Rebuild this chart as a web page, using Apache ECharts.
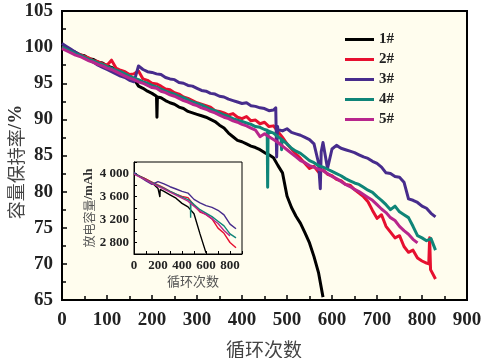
<!DOCTYPE html>
<html><head><meta charset="utf-8">
<script src="https://cdn.jsdelivr.net/npm/echarts@6/dist/echarts.min.js"></script>
<style>html,body{margin:0;padding:0;background:#fff}#c{width:490px;height:358px}</style>
</head><body><div id="c"></div>
<script>
// ---------- data ----------
const seriesNames = ['1#','2#','3#','4#','5#'];
const cycles = [0,10,20,30,40,50,60,70,80,90,100,110,120,130,140,150,160,170,180,190,200,210,220,230,240,250,260,270,280,290,300,310,320,330,340,350,360,370,380,390,400,410,420,430,440,450,460,470,480,490,500,510,520,530,540,550,560,570,580,590,600,610,620,630,640,650,660,670,680,690,700,710,720,730,740,750,760,770,780,790,800,810,820,830];
const ret1 = [100.1,99.8,99.5,99.3,98.9,98.8,98.4,98.3,97.9,97.8,
97.4,97.2,96.9,96.7,96.4,96.0,95.6,94.6,94.3,93.9,
93.6,93.2,93.0,92.6,92.3,92.1,91.7,91.5,91.1,90.9,
90.7,90.5,90.3,90.0,89.7,89.2,88.8,88.1,87.6,87.1,
86.9,86.6,86.3,86.1,85.8,85.4,85.1,84.7,83.6,82.6,
79.4,77.8,76.6,75.6,74.3,72.9,71.0,68.8,65.4];
const ret2 = [100.0,99.8,99.4,99.2,99.0,98.7,98.5,98.1,98.0,97.7,
97.5,98.2,97.1,96.8,96.6,96.2,96.3,96.7,95.6,95.4,
95.0,94.9,94.6,94.2,94.1,93.7,93.5,93.1,92.9,92.6,
92.3,92.1,91.9,91.7,91.2,91.1,90.9,90.6,90.8,90.3,
90.1,90.4,89.8,89.9,89.4,89.6,89.0,89.1,88.3,87.5,
86.6,85.9,85.2,84.6,83.9,83.2,83.5,82.7,83.0,82.4,
82.2,81.7,81.5,81.0,80.9,80.3,79.8,79.3,78.6,77.4,
76.3,76.8,75.2,74.4,73.6,73.9,72.4,71.6,71.9,70.8,
70.4,70.1,69.0,67.9];
const ret3 = [100.5,100.1,99.7,99.3,98.9,98.5,98.2,97.9,97.5,97.2,
96.9,96.6,96.3,96.0,95.8,95.4,95.2,97.4,96.9,96.6,
96.5,96.3,96.2,95.8,95.6,95.5,95.1,95.0,94.7,94.6,
94.3,94.0,93.9,93.6,93.5,93.2,93.1,92.8,92.6,92.4,
92.2,92.3,91.9,91.8,91.6,91.5,91.2,91.3,88.6,88.4,
88.7,88.2,88.0,87.8,87.5,87.2,86.6,84.0,86.8,83.2,
85.9,86.4,86.0,85.8,85.6,85.4,85.1,84.8,84.6,84.2,
83.9,83.4,82.6,82.5,82.1,82.0,81.3,79.0,78.8,78.5,
78.0,77.7,77.0,76.5];
const ret4 = [100.0,99.7,99.4,99.1,98.9,98.6,98.3,98.1,97.8,97.6,
97.3,97.1,96.8,96.6,96.3,96.0,95.7,95.5,95.2,95.0,
94.7,94.5,94.2,93.9,93.7,93.5,93.2,93.0,92.7,92.4,
92.2,92.0,91.7,91.4,91.2,90.9,90.6,90.4,90.1,89.9,
89.7,89.5,89.3,89.0,88.9,88.6,88.4,88.1,87.6,87.2,
86.6,86.0,85.6,85.3,84.8,84.3,84.0,83.6,83.4,83.1,
82.8,82.5,82.2,81.8,81.5,81.2,81.0,80.6,80.2,79.9,
79.3,78.8,78.2,77.5,78.0,77.2,76.8,76.4,75.2,73.9,
73.6,73.2,73.5,71.9];
const ret5 = [99.8,99.5,99.2,98.9,98.7,98.4,98.1,97.9,97.6,97.4,
97.1,96.9,96.6,96.3,96.0,95.7,95.5,95.2,95.0,94.7,
94.4,94.3,93.9,93.7,93.4,93.2,92.9,92.6,92.4,92.1,
91.9,91.6,91.4,91.1,90.9,90.6,90.3,90.1,89.8,89.6,
89.3,89.1,88.8,88.5,87.6,88.0,87.6,87.2,86.8,86.3,
85.8,85.3,84.8,84.3,84.0,83.6,83.4,83.1,82.9,82.5,
82.1,81.8,81.4,81.0,80.7,80.3,80.0,79.6,79.2,78.8,
78.2,77.6,77.1,76.4,76.0,75.2,74.6,74.1,73.4,72.9];
// sharp single-cycle excursions [cycle, value]
const spikes1 = [[211,90.3],[212,93.1]];
const spikes2 = [[815,70.0],[817,73.6],[819,69.2]];
const spikes3 = [[475,91.6],[477,84.8],[479,89.0],[574,80.4],[576,85.5]];
const spikes4 = [[456,88.5],[457,80.6],[458,88.4],[487,87.3],[488,85.8],[489,87.2]];
const spikes5 = [];
// inset: discharge capacity (mAh)
const capCycles = [0,50,100,150,200,250,300,350,400,450,500,550,600,650,700,750,800,850];
const cap1 = [4000,3950,3900,3840,3740,3690,3630,3570,3480,3420,3300,2950,2620];
const cap2 = [4000,3950,3900,3850,3800,3750,3690,3640,3600,3580,3450,3330,3290,3210,3050,2960,2800,2710];
const cap3 = [4020,3940,3870,3810,3860,3820,3770,3730,3690,3660,3550,3490,3440,3410,3360,3280,3120,3040];
const cap4 = [4000,3945,3890,3840,3790,3740,3690,3640,3590,3545,3460,3370,3310,3250,3170,3090,2950,2880];
const cap5 = [3990,3935,3885,3830,3775,3730,3675,3625,3570,3520,3430,3345,3285,3210,3130,3010,2915];
const capSpikes1 = [[214,3725],[216,3590],[218,3722]];
const capSpikes4 = [[470,3520],[472,3230],[474,3510]];
// axis tick labels
const xTicksMain = [0,100,200,300,400,500,600,700,800,900];
const yTicksMain = [65,70,75,80,85,90,95,100,105];

// ---------- build ----------
function pairs(xs, ys, extra) {
  const out = ys.map((v, i) => [xs[i], v]);
  if (extra) extra.forEach(p => out.push(p));
  out.sort((a, b) => a[0] - b[0]);
  return out;
}
const colors = ['#000000','#E6102F','#472C8C','#0F8578','#B8268C'];
const rets = [ret1, ret2, ret3, ret4, ret5];
const spikes = [spikes1, spikes2, spikes3, spikes4, spikes5];
const caps = [cap1, cap2, cap3, cap4, cap5];
const capSpikes = [capSpikes1, [], [], capSpikes4, []];
const serif = '"Liberation Serif","Times New Roman",serif';
const cjk = '"Noto Sans CJK SC","Noto Sans CJK JP",sans-serif';
const bg = '#FFFDEE';

const series = [];
rets.forEach((r, i) => series.push({
  name: seriesNames[i], type: 'line', xAxisIndex: 0, yAxisIndex: 0,
  data: pairs(cycles, r, spikes[i]), showSymbol: false, symbol: 'none',
  lineStyle: {color: colors[i], width: 3, join: 'round'}, itemStyle: {color: colors[i]},
  z: 2 + i * 0.01
}));
caps.forEach((c, i) => series.push({
  name: seriesNames[i], type: 'line', xAxisIndex: 1, yAxisIndex: 1,
  data: pairs(capCycles, c, capSpikes[i]), showSymbol: false, symbol: 'none',
  lineStyle: {color: colors[i], width: 1.4}, itemStyle: {color: colors[i]}, z: 8
}));

const tickStyle = {color: '#000', width: 1.5};
const chart = echarts.init(document.getElementById('c'), null, {renderer: 'canvas'});
chart.setOption({
  animation: false,
  backgroundColor: '#fff',
  grid: [
    {left: 62, top: 11, width: 405, height: 289, show: true, backgroundColor: bg, borderColor: '#000', borderWidth: 2, z: 0},
    {left: 134, top: 162, width: 108, height: 92, show: true, backgroundColor: bg, borderColor: '#000', borderWidth: 1, z: 6}
  ],
  xAxis: [
    {gridIndex: 0, type: 'value', min: xTicksMain[0], max: xTicksMain[xTicksMain.length - 1], interval: 100,
     axisLine: {onZero: false, lineStyle: {color: '#000', width: 2}},
     axisTick: {inside: true, length: 5, lineStyle: tickStyle},
     minorTick: {show: true, splitNumber: 2, length: 4, lineStyle: tickStyle},
     splitLine: {show: false},
     axisLabel: {fontFamily: serif, fontWeight: 'bold', fontSize: 19, color: '#222', margin: 11}},
    {gridIndex: 1, type: 'value', min: 0, max: 900, interval: 100, z: 7,
     axisLine: {onZero: false, lineStyle: {color: '#000', width: 1}},
     axisTick: {inside: true, length: 3, lineStyle: {color: '#000', width: 1}},
     splitLine: {show: false},
     axisLabel: {fontFamily: serif, fontWeight: 'bold', fontSize: 13, color: '#222', margin: 5,
       formatter: v => (v % 200 === 0 && v <= 800) ? String(v) : ''}}
  ],
  yAxis: [
    {gridIndex: 0, type: 'value', min: yTicksMain[0], max: yTicksMain[yTicksMain.length - 1], interval: 5,
     axisLine: {onZero: false, lineStyle: {color: '#000', width: 2}},
     axisTick: {inside: true, length: 5, lineStyle: tickStyle},
     minorTick: {show: true, splitNumber: 2, length: 4, lineStyle: tickStyle},
     splitLine: {show: false},
     axisLabel: {fontFamily: serif, fontWeight: 'bold', fontSize: 19, color: '#222', margin: 9}},
    {gridIndex: 1, type: 'value', min: 2600, max: 4200, interval: 200, z: 7,
     axisLine: {onZero: false, lineStyle: {color: '#000', width: 1}},
     axisTick: {inside: true, length: 3, lineStyle: {color: '#000', width: 1}},
     splitLine: {show: false},
     axisLabel: {fontFamily: serif, fontWeight: 'bold', fontSize: 13, color: '#222', margin: 5,
       formatter: v => ((v - 2800) % 400 === 0 && v >= 2800 && v <= 4000) ? (Math.floor(v / 1000) + ' ' + String(v % 1000).padStart(3, '0')) : ''}}
  ],
  legend: {
    data: seriesNames, orient: 'vertical', left: 340, top: 27,
    icon: 'rect', itemWidth: 29, itemHeight: 3, itemGap: 5,
    textStyle: {fontFamily: serif, fontWeight: 'bold', fontSize: 15, color: '#222'},
    selectedMode: false
  },
  graphic: [
    {type: 'text', x: 16, y: 162, rotation: Math.PI / 2, z: 10,
     style: {text: '{a|容量保持率}{b|/%}', textAlign: 'center', textVerticalAlign: 'middle',
       rich: {a: {fontFamily: cjk, fontSize: 18, fill: '#444'}, b: {fontFamily: serif, fontWeight: 'bold', fontSize: 19, fill: '#333'}}}},
    {type: 'text', x: 264, y: 350, z: 10,
     style: {text: '循环次数', fontFamily: cjk, fontSize: 19, fill: '#444', textAlign: 'center', textVerticalAlign: 'middle'}},
    {type: 'text', x: 193, y: 281, z: 10,
     style: {text: '循环次数', fontFamily: cjk, fontSize: 13, fill: '#555', textAlign: 'center', textVerticalAlign: 'middle'}},
    {type: 'text', x: 89, y: 208, rotation: Math.PI / 2, z: 10,
     style: {text: '{a|放电容量}{b|/mAh}', textAlign: 'center', textVerticalAlign: 'middle',
       rich: {a: {fontFamily: cjk, fontSize: 12, fill: '#555'}, b: {fontFamily: serif, fontWeight: 'bold', fontSize: 13, fill: '#333'}}}}
  ],
  series: series
});
</script></body></html>
